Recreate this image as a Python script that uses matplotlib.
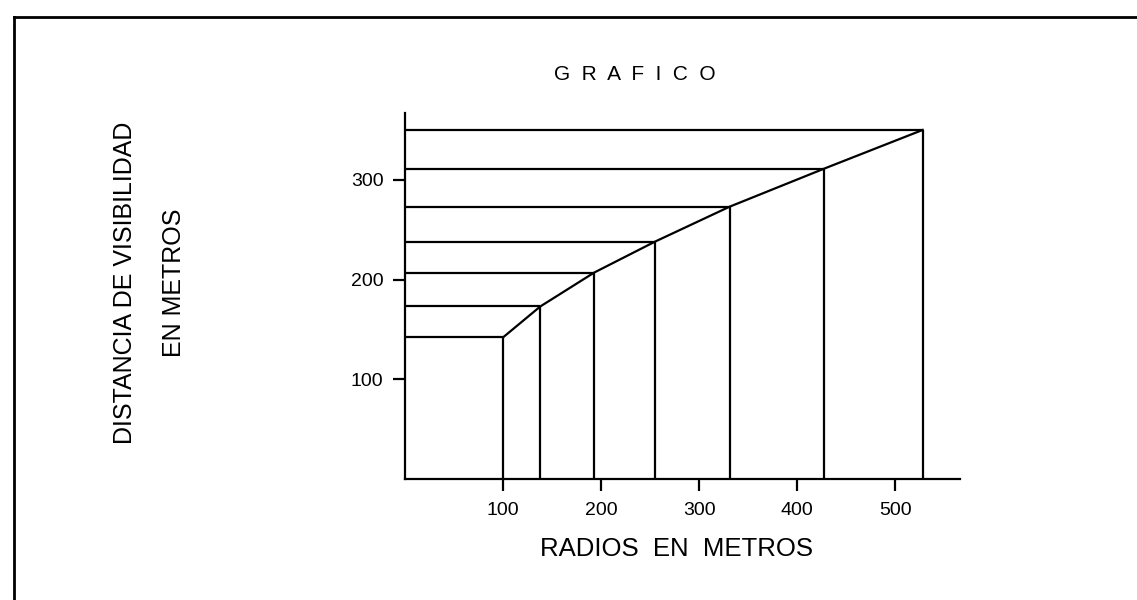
import matplotlib
matplotlib.use('Agg')
import matplotlib.pyplot as plt
from matplotlib.lines import Line2D

plt.rcParams['font.family'] = ['Liberation Sans', 'DejaVu Sans']

# radio (m) vs distancia de visibilidad (m)
radios = [100, 138, 193, 255, 331, 427, 528]
distancias = [142, 173, 207, 238, 273, 311, 350]
x_ticks = [100, 200, 300, 400, 500]
y_ticks = [100, 200, 300]

W, H = 1137, 600
fig = plt.figure(figsize=(W / 100, H / 100), dpi=100)
ax = fig.add_axes([0.3562, 0.2017, 0.4881, 0.61])

lw = 1.6
for r, d in zip(radios, distancias):
    ax.plot([0, r], [d, d], color='black', lw=lw, solid_capstyle='butt')
    ax.plot([r, r], [0, d], color='black', lw=lw, solid_capstyle='butt')
ax.plot(radios, distancias, color='black', lw=lw)

ax.set_xlim(0, 566)
ax.set_ylim(0, 367)
ax.set_xticks(x_ticks)
ax.set_yticks(y_ticks)
ax.tick_params(direction='out', length=8.5, width=1.6, labelsize=14)
ax.tick_params(axis='x', pad=8)
ax.tick_params(axis='y', pad=7)
for s in ['top', 'right']:
    ax.spines[s].set_visible(False)
for s in ['left', 'bottom']:
    ax.spines[s].set_linewidth(1.6)


def px(x, y):
    return x / W, 1 - y / H


fig.text(*px(677, 549), 'RADIOS  EN  METROS', fontsize=18.5, ha='center', va='center')
fig.text(*px(635, 75), 'G  R  A  F  I  C  O', fontsize=15, ha='center', va='center')
fig.text(*px(125, 283), 'DISTANCIA DE VISIBILIDAD', fontsize=18, rotation=90,
         ha='center', va='center')
fig.text(*px(174, 283), 'EN METROS', fontsize=18, rotation=90,
         ha='center', va='center')

# marco del documento
fig.add_artist(Line2D([14 / W, 1], [1 - 17 / H, 1 - 17 / H],
                      transform=fig.transFigure, color='black', lw=2))
fig.add_artist(Line2D([14 / W, 14 / W], [0, 1 - 17 / H],
                      transform=fig.transFigure, color='black', lw=2))

fig.savefig('out.png', dpi=100)
